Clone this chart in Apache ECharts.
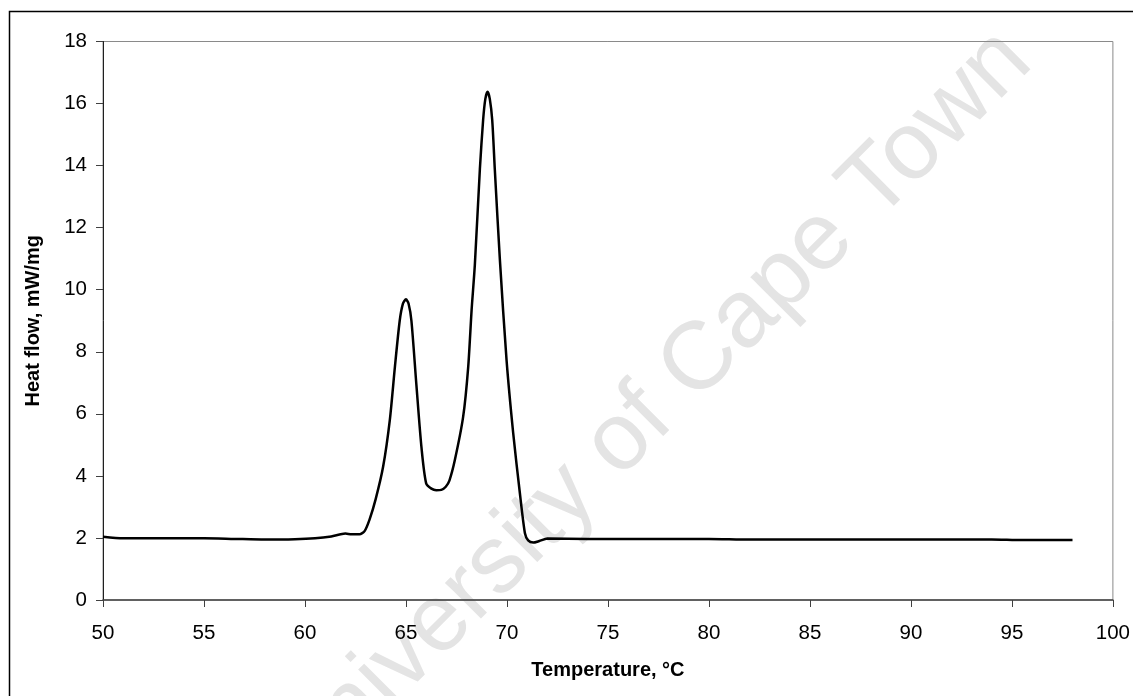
<!DOCTYPE html>
<html>
<head>
<meta charset="utf-8">
<title>Heat flow vs temperature</title>
<script src="https://cdn.jsdelivr.net/npm/echarts@6/dist/echarts.min.js"></script>
<style>
  html, body { margin: 0; padding: 0; background: #ffffff; }
  #chart { width: 1133px; height: 696px; }
</style>
</head>
<body>
<div id="chart"></div>
<script>
// DSC trace: temperature (°C) and heat flow (mW/mg)
const temperature = [
  50.0, 51.0, 53.0, 55.0, 56.5, 58.0, 59.5, 60.5, 61.3, 62.0, 62.3, 62.7,
  62.95, 63.2, 63.5, 63.87, 64.2, 64.45, 64.69, 64.85, 65.0, 65.13, 65.27,
  65.52, 65.77, 66.0, 66.26, 66.5, 66.75, 66.97, 67.15, 67.42, 67.83, 68.08,
  68.25, 68.41, 68.66, 68.82, 68.93, 69.04, 69.15, 69.27, 69.4, 69.65, 69.98,
  70.31, 70.64, 70.89, 71.05, 71.3, 71.6, 72.0, 74.0, 78.0, 80.0, 82.0, 88.0,
  94.0, 95.5, 98.0
];
const heatFlow = [
  2.04, 1.99, 1.99, 1.99, 1.97, 1.95, 1.96, 1.99, 2.05, 2.14, 2.12, 2.12,
  2.22, 2.6, 3.25, 4.3, 5.8, 7.5, 9.0, 9.55, 9.69, 9.55, 9.0,
  6.9, 4.9, 3.76, 3.59, 3.54, 3.55, 3.65, 3.85, 4.51, 5.9, 7.5,
  9.35, 10.8, 13.9, 15.47, 16.15, 16.38, 16.15, 15.47, 13.86, 10.96, 7.73,
  5.37, 3.44, 2.15, 1.92, 1.85, 1.9, 1.98, 1.97, 1.97, 1.97, 1.95, 1.95,
  1.95, 1.93, 1.93
];
const xTicks = { min: 50, max: 100, step: 5 };
const yTicks = { min: 0, max: 18, step: 2 };
const xTitle = 'Temperature, °C';
const yTitle = 'Heat flow, mW/mg';
const watermark = 'University of Cape Town';

const points = temperature.map((t, i) => [t, heatFlow[i]]);
const font = 'Liberation Sans, Arial, sans-serif';

const chart = echarts.init(document.getElementById('chart'), null, { renderer: 'canvas' });
chart.setOption({
  animation: false,
  backgroundColor: '#ffffff',
  grid: {
    left: 103, right: 20, top: 41.5, bottom: 96,
    show: true, borderColor: '#8a8a8a', borderWidth: 1, backgroundColor: 'transparent'
  },
  graphic: [
    {
      type: 'rect', z: -10, silent: true,
      shape: { x: 9.5, y: 11.5, width: 1200, height: 800 },
      style: { fill: 'none', stroke: '#000000', lineWidth: 1.5 }
    },
    {
      type: 'text', z: -5, silent: true,
      x: 650, y: 412, rotation: Math.PI / 4,
      style: {
        text: watermark, fontSize: 96, fontFamily: font,
        fill: '#e4e4e4', align: 'center', verticalAlign: 'middle'
      }
    }
  ],
  xAxis: {
    type: 'value',
    min: xTicks.min, max: xTicks.max, interval: xTicks.step,
    name: xTitle, nameLocation: 'middle', nameGap: 60,
    nameTextStyle: { fontFamily: font, fontSize: 20, fontWeight: 'bold', color: '#000' },
    axisLine: { show: true, onZero: false, lineStyle: { color: '#404040', width: 1.5 } },
    axisTick: { show: true, length: 7, lineStyle: { color: '#404040', width: 1 } },
    axisLabel: { margin: 23, fontFamily: font, fontSize: 20.5, color: '#000' },
    splitLine: { show: false }
  },
  yAxis: {
    type: 'value',
    min: yTicks.min, max: yTicks.max, interval: yTicks.step,
    name: yTitle, nameLocation: 'middle', nameGap: 60,
    nameTextStyle: { fontFamily: font, fontSize: 20, fontWeight: 'bold', color: '#000' },
    axisLine: { show: true, onZero: false, lineStyle: { color: '#202020', width: 1 } },
    axisTick: { show: true, length: 7, lineStyle: { color: '#404040', width: 1 } },
    axisLabel: { margin: 16, fontFamily: font, fontSize: 20.5, color: '#000' },
    splitLine: { show: false }
  },
  series: [{
    type: 'line',
    data: points,
    showSymbol: false,
    smooth: 0.25,
    lineStyle: { color: '#000000', width: 2.5 },
    z: 3
  }]
});
</script>
</body>
</html>
